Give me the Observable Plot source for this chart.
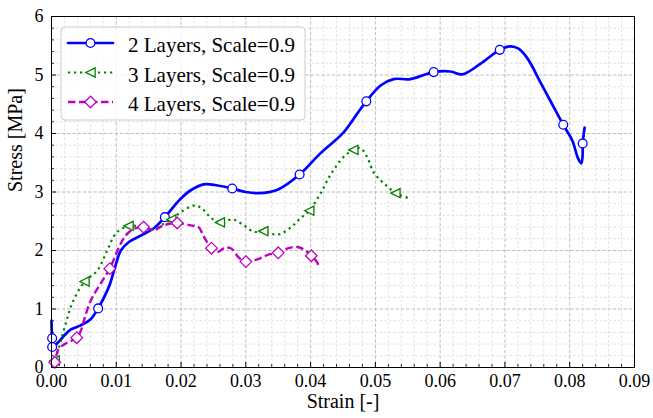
<!DOCTYPE html>
<html>
<head>
<meta charset="utf-8">
<script src="https://cdn.jsdelivr.net/npm/d3@7"></script>
<script src="https://cdn.jsdelivr.net/npm/@observablehq/plot@0.6"></script>
<style>
  html, body { margin: 0; padding: 0; background: #fff; }
  #chart { width: 653px; height: 418px; }
  #chart svg text { font-family: "Liberation Serif", "Times New Roman", serif; }
</style>
</head>
<body>
<div id="chart"></div>
<script>
// Stress–strain curves, three laminate configurations
const seriesNames = ["2 Layers, Scale=0.9", "3 Layers, Scale=0.9", "4 Layers, Scale=0.9"];

// 2 layers: sampled curve
const strain2 = [0.0000, 0.0001, 0.0003, 0.0012, 0.0020, 0.0030, 0.0045, 0.0060, 0.0072, 0.0082, 0.0090, 0.0099, 0.0107, 0.0120, 0.0137, 0.0158, 0.0175, 0.0199, 0.0215, 0.0235, 0.0252, 0.0279, 0.0300, 0.0320, 0.0349, 0.0383, 0.0415, 0.0451, 0.0472, 0.0486, 0.0508, 0.0528, 0.0554, 0.0590, 0.0616, 0.0634, 0.0662, 0.0692, 0.0709, 0.0721, 0.0735, 0.0755, 0.0770, 0.0790, 0.0804, 0.0813, 0.0818, 0.0820, 0.0820, 0.0823];
const stress2 = [0.80, 0.50, 0.37, 0.45, 0.55, 0.65, 0.72, 0.82, 1.01, 1.22, 1.42, 1.75, 2.00, 2.15, 2.25, 2.38, 2.57, 2.88, 3.03, 3.13, 3.12, 3.06, 3.00, 2.98, 3.04, 3.30, 3.66, 4.02, 4.34, 4.55, 4.82, 4.93, 4.93, 5.05, 5.06, 5.01, 5.19, 5.43, 5.49, 5.45, 5.28, 4.87, 4.56, 4.15, 3.88, 3.57, 3.49, 3.66, 3.83, 4.10];
const markStrain2 = [0.0001, 0.0001, 0.0072, 0.0175, 0.0279, 0.0383, 0.0486, 0.0590, 0.0692, 0.0790, 0.0820];
const markStress2 = [0.50, 0.35, 1.01, 2.57, 3.06, 3.30, 4.55, 5.05, 5.43, 4.15, 3.83];

// 3 layers
const strain3 = [0.0002, 0.0005, 0.0013, 0.0022, 0.0032, 0.0051, 0.0071, 0.0086, 0.0100, 0.0119, 0.0142, 0.0158, 0.0172, 0.0185, 0.0200, 0.0222, 0.0234, 0.0246, 0.0260, 0.0280, 0.0297, 0.0312, 0.0327, 0.0349, 0.0369, 0.0384, 0.0398, 0.0415, 0.0431, 0.0451, 0.0466, 0.0477, 0.0488, 0.0497, 0.0508, 0.0520, 0.0531, 0.0550];
const stress3 = [0.05, 0.12, 0.40, 0.75, 1.10, 1.47, 1.66, 2.00, 2.30, 2.42, 2.40, 2.36, 2.45, 2.53, 2.66, 2.77, 2.70, 2.56, 2.48, 2.53, 2.43, 2.32, 2.33, 2.27, 2.39, 2.55, 2.68, 2.97, 3.30, 3.60, 3.72, 3.75, 3.58, 3.34, 3.20, 3.08, 2.98, 2.90];
const markStrain3 = [0.0005, 0.0051, 0.0119, 0.0185, 0.0260, 0.0327, 0.0398, 0.0466, 0.0531];
const markStress3 = [0.12, 1.47, 2.42, 2.53, 2.48, 2.33, 2.68, 3.72, 2.98];

// 4 layers
const strain4 = [0.0002, 0.0005, 0.0011, 0.0022, 0.0039, 0.0045, 0.0050, 0.0060, 0.0076, 0.0090, 0.0102, 0.0114, 0.0127, 0.0142, 0.0158, 0.0173, 0.0194, 0.0215, 0.0227, 0.0235, 0.0247, 0.0256, 0.0268, 0.0278, 0.0289, 0.0300, 0.0318, 0.0335, 0.0350, 0.0366, 0.0380, 0.0392, 0.0401, 0.0410, 0.0413];
const stress4 = [0.02, 0.09, 0.32, 0.41, 0.51, 0.62, 0.80, 1.13, 1.44, 1.69, 2.00, 2.25, 2.37, 2.40, 2.35, 2.43, 2.47, 2.43, 2.40, 2.24, 2.04, 1.97, 2.05, 2.03, 1.88, 1.81, 1.85, 1.93, 1.96, 2.04, 2.06, 2.00, 1.91, 1.80, 1.70];
const markStrain4 = [0.0005, 0.0039, 0.0090, 0.0142, 0.0194, 0.0247, 0.0300, 0.0350, 0.0401];
const markStress4 = [0.09, 0.51, 1.69, 2.40, 2.47, 2.04, 1.81, 1.96, 1.91];

// Axis ticks
const xMajor = [0, 0.01, 0.02, 0.03, 0.04, 0.05, 0.06, 0.07, 0.08, 0.09];
const xTickLabels = ["0.00", "0.01", "0.02", "0.03", "0.04", "0.05", "0.06", "0.07", "0.08", "0.09"];
const yMajor = [0, 1, 2, 3, 4, 5, 6];
const yTickLabels = ["0", "1", "2", "3", "4", "5", "6"];
const xMinor = d3.range(0, 46).map(i => i * 0.002).filter(v => Math.abs(v / 0.01 - Math.round(v / 0.01)) > 1e-6);
const yMinor = d3.range(0, 31).map(i => i * 0.2).filter(v => Math.abs(v - Math.round(v)) > 1e-6);
const xLabel = "Strain [-]";
const yLabel = "Stress [MPa]";

const FONT = "'Liberation Serif', 'Times New Roman', serif";
const W = 653, H = 418;
const M = {top: 16, right: 19, bottom: 51, left: 51};
const PW = W - M.left - M.right, PH = H - M.top - M.bottom;

const toRows = (xs, ys) => xs.map((x, i) => ({x, y: ys[i]}));

// Marker shapes
const triLeft = {
  draw(ctx, size) {
    const r = Math.sqrt(size / Math.PI);
    ctx.moveTo(-r, 0); ctx.lineTo(r, -r); ctx.lineTo(r, r); ctx.closePath();
  }
};
const diamond = {
  draw(ctx, size) {
    const r = Math.sqrt(size / Math.PI);
    ctx.moveTo(0, -r); ctx.lineTo(r, 0); ctx.lineTo(0, r); ctx.lineTo(-r, 0); ctx.closePath();
  }
};

const styles = [
  {stroke: "#0000ff", strokeWidth: 2.7, dash: null, cap: "round", symbol: "circle", r: 4.4},
  {stroke: "#008000", strokeWidth: 2.2, dash: "2.2,3.8", cap: "butt", symbol: triLeft, r: 4.6},
  {stroke: "#bf00bf", strokeWidth: 2.4, dash: "7.5,3.5", cap: "butt", symbol: diamond, r: 5.8}
];

const lines = [toRows(strain2, stress2), toRows(strain3, stress3), toRows(strain4, stress4)];
const marks = [toRows(markStrain2, markStress2), toRows(markStrain3, markStress3), toRows(markStrain4, markStress4)];

const seriesMarks = [];
lines.forEach((rows, k) => {
  const s = styles[k];
  seriesMarks.push(Plot.line(rows, {
    x: "x", y: "y", curve: "catmull-rom",
    stroke: s.stroke, strokeWidth: s.strokeWidth,
    strokeDasharray: s.dash, strokeLinecap: s.cap, strokeLinejoin: "round"
  }));
  seriesMarks.push(Plot.dot(marks[k], {
    x: "x", y: "y", symbol: s.symbol, r: s.r,
    fill: "white", stroke: s.stroke, strokeWidth: 1.3
  }));
});

const chart = Plot.plot({
  width: W, height: H,
  marginTop: M.top, marginRight: M.right, marginBottom: M.bottom, marginLeft: M.left,
  style: {fontSize: "18px", background: "white", color: "black"},
  x: {domain: [0, 0.09]},
  y: {domain: [0, 6]},
  marks: [
    Plot.gridX(xMinor, {stroke: "#d9d9d9", strokeOpacity: 1, strokeWidth: 0.8, strokeDasharray: "2.5,2"}),
    Plot.gridY(yMinor, {stroke: "#d9d9d9", strokeOpacity: 1, strokeWidth: 0.8, strokeDasharray: "2.5,2"}),
    Plot.gridX(xMajor, {stroke: "#b8b8b8", strokeOpacity: 1, strokeWidth: 0.9, strokeDasharray: "3.5,1.8"}),
    Plot.gridY(yMajor, {stroke: "#b8b8b8", strokeOpacity: 1, strokeWidth: 0.9, strokeDasharray: "3.5,1.8"}),
    // inward tick marks along the bottom and left spines
    Plot.ruleX(xMajor, {x: d => d, insetTop: PH - 5, stroke: "black", strokeWidth: 1}),
    Plot.ruleX(xMinor, {x: d => d, insetTop: PH - 3, stroke: "black", strokeWidth: 0.8}),
    Plot.ruleY(yMajor, {y: d => d, insetRight: PW - 5, stroke: "black", strokeWidth: 1}),
    Plot.ruleY(yMinor, {y: d => d, insetRight: PW - 3, stroke: "black", strokeWidth: 0.8}),
    Plot.axisX(xMajor, {tickSize: 0, tickPadding: 7, tickFormat: (d, i) => xTickLabels[i], label: null, fontSize: 18}),
    Plot.axisY(yMajor, {tickSize: 0, tickPadding: 8, tickFormat: (d, i) => yTickLabels[i], label: null, fontSize: 18}),
    Plot.text([xLabel], {text: d => d, frameAnchor: "bottom", lineAnchor: "middle", dy: 34, fontSize: 20}),
    Plot.text([yLabel], {text: d => d, frameAnchor: "left", lineAnchor: "middle", rotate: -90, dx: -36, fontSize: 20}),
    ...seriesMarks,
    Plot.frame({stroke: "black", strokeWidth: 1})
  ]
});

document.getElementById("chart").appendChild(chart);

// Legend box in the upper-left corner of the plot area
const svg = d3.select(chart);
const lg = svg.append("g").attr("transform", "translate(61,27)");
lg.append("rect").attr("x", 0).attr("y", 0).attr("width", 244).attr("height", 93).attr("rx", 4)
  .attr("fill", "white").attr("fill-opacity", 0.8).attr("stroke", "#cccccc").attr("stroke-width", 1);
const symPaths = [d3.symbol(d3.symbolCircle, Math.PI * styles[0].r ** 2)(),
                  d3.symbol(triLeft, Math.PI * styles[1].r ** 2)(),
                  d3.symbol(diamond, Math.PI * styles[2].r ** 2)()];
seriesNames.forEach((name, k) => {
  const s = styles[k];
  const y = 16 + k * 29.5;
  lg.append("line").attr("x1", 7).attr("x2", 52).attr("y1", y).attr("y2", y)
    .attr("stroke", s.stroke).attr("stroke-width", s.strokeWidth)
    .attr("stroke-dasharray", s.dash).attr("stroke-linecap", s.cap);
  lg.append("path").attr("d", symPaths[k]).attr("transform", `translate(29.5,${y})`)
    .attr("fill", "white").attr("stroke", s.stroke).attr("stroke-width", 1.3);
  lg.append("text").attr("x", 67).attr("y", y + 9)
    .attr("text-anchor", "start")
    .attr("font-size", 21)
    .attr("fill", "black").text(name);
});

// one serif face for every label in the figure
svg.selectAll("text").style("font-family", FONT);
</script>
</body>
</html>
